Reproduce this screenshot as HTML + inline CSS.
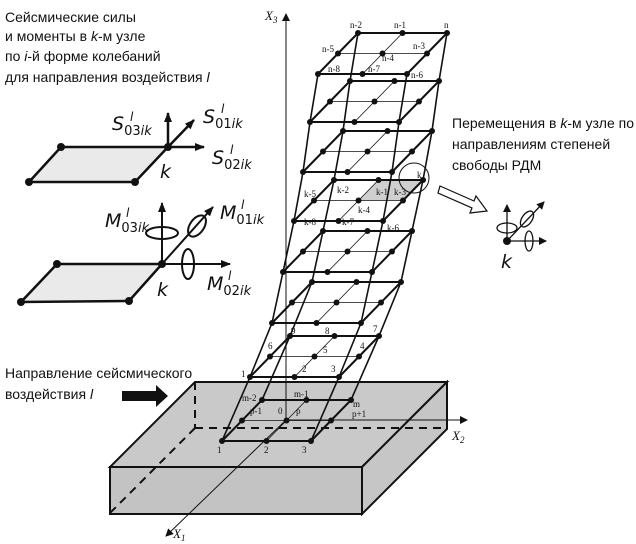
<!DOCTYPE html>
<html><head><meta charset="utf-8">
<style>
html,body{margin:0;padding:0;background:#fff;}
svg{display:block;}
.t{font-family:"Liberation Sans","DejaVu Sans",sans-serif;font-size:14px;fill:#111;}
.s{font-family:"Liberation Serif",serif;font-size:9px;fill:#111;}
.m{font-family:"DejaVu Sans","Liberation Sans",sans-serif;font-style:italic;font-size:19px;fill:#111;}
.sub{font-style:normal;font-size:13px;}
</style></head><body>
<svg id="sv" width="636" height="544" viewBox="0 0 636 544" xmlns="http://www.w3.org/2000/svg">
<defs>
<marker id="ar" markerWidth="8" markerHeight="8" refX="7" refY="4" orient="auto" markerUnits="userSpaceOnUse"><path d="M0,0 L8,4 L0,8 z" fill="#111"/></marker>
<marker id="ar2" markerWidth="10" markerHeight="10" refX="9" refY="5" orient="auto" markerUnits="userSpaceOnUse"><path d="M0,1 L10,5 L0,9 z" fill="#111"/></marker>
</defs>
<!-- foundation -->
<polygon points="195,382 447,382 362,467 110,467" fill="#c9c9c9" stroke="#111" stroke-width="2"/>
<polygon points="110,467 362,467 362,514 110,514" fill="#c3c3c3" stroke="#111" stroke-width="2"/>
<polygon points="362,467 447,382 447,429 362,514" fill="#c6c6c6" stroke="#111" stroke-width="2"/>
<g stroke="#111" stroke-width="2" stroke-dasharray="8,6" fill="none">
<line x1="195" y1="382" x2="195" y2="428"/>
<line x1="195" y1="428" x2="447" y2="428"/>
<line x1="195" y1="428" x2="110" y2="513"/>
</g>
<!-- axes -->
<g stroke="#111" stroke-width="1" fill="none">
<line x1="286" y1="420" x2="286" y2="14" marker-end="url(#ar)"/>
<line x1="286" y1="420" x2="467" y2="420" marker-end="url(#ar)"/>
<line x1="286" y1="420" x2="166" y2="536" marker-end="url(#ar)"/>
</g>
<g id="frame"></g>
<text class="s" x="265" y="20" style="font-size:13px;font-style:italic">X<tspan font-size="9" dy="3">3</tspan></text>
<text class="s" x="452" y="440" style="font-size:13px;font-style:italic">X<tspan font-size="9" dy="3">2</tspan></text>
<text class="s" x="173" y="538" style="font-size:13px;font-style:italic">X<tspan font-size="9" dy="3">1</tspan></text>
<!-- labels top floor -->
<g class="s">
<text x="350" y="28">n-2</text><text x="394" y="28">n-1</text><text x="444" y="28">n</text>
<text x="322" y="52">n-5</text><text x="382" y="61">n-4</text><text x="413" y="49">n-3</text>
<text x="328" y="72">n-8</text><text x="368" y="72">n-7</text><text x="411" y="78">n-6</text>
<text x="337" y="193">k-2</text><text x="376" y="195">k-1</text><text x="394" y="195">k-3</text><text x="417" y="178">k</text>
<text x="304" y="197">k-5</text><text x="358" y="213">k-4</text>
<text x="304" y="225">k-8</text><text x="342" y="225">k-7</text><text x="387" y="231">k-6</text>
<text x="291" y="334">9</text><text x="325" y="334">8</text><text x="373" y="332">7</text>
<text x="268" y="349">6</text><text x="323" y="353">5</text><text x="360" y="349">4</text>
<text x="241" y="377">1</text><text x="302" y="372">2</text><text x="331" y="372">3</text>
<text x="242" y="401">m-2</text><text x="294" y="397">m-1</text><text x="353" y="407">m</text>
<text x="250" y="414">p-1</text><text x="278" y="414">0</text><text x="296" y="414">p</text><text x="352" y="417">p+1</text>
<text x="217" y="453">1</text><text x="264" y="453">2</text><text x="302" y="453">3</text>
</g>
<circle cx="414" cy="178" r="15" fill="none" stroke="#111" stroke-width="1"/>
<!-- hollow arrow -->
<polygon points="440,186 474,201 476,196 487,211 470,213 472,208 438,193" fill="#fff" stroke="#111" stroke-width="1.2"/>
<!-- left panels -->
<polygon points="61,147 168,147 135,182 29,182" fill="#eaeaea" stroke="#111" stroke-width="2.5"/>
<g fill="#111"><circle cx="61" cy="147" r="4"/><circle cx="168" cy="147" r="4"/><circle cx="135" cy="182" r="4"/><circle cx="29" cy="182" r="4"/></g>
<g stroke="#111" stroke-width="2.5" fill="none">
<line x1="168" y1="147" x2="168" y2="113" marker-end="url(#ar2)"/>
<line x1="168" y1="147" x2="204" y2="147" marker-end="url(#ar2)"/>
<line x1="168" y1="147" x2="194" y2="120" marker-end="url(#ar2)"/>
</g>
<polygon points="57,264 162,264 129,301 21,302" fill="#eaeaea" stroke="#111" stroke-width="2.5"/>
<g fill="#111"><circle cx="57" cy="264" r="4"/><circle cx="162" cy="264" r="4"/><circle cx="129" cy="301" r="4"/><circle cx="21" cy="302" r="4"/></g>
<g stroke="#111" stroke-width="2" fill="none">
<line x1="162" y1="264" x2="162" y2="203" marker-end="url(#ar2)"/>
<line x1="162" y1="264" x2="230" y2="264" marker-end="url(#ar2)"/>
<line x1="162" y1="264" x2="213" y2="207" marker-end="url(#ar2)"/>
<ellipse cx="162" cy="233" rx="16" ry="6"/>
<ellipse cx="197" cy="226" rx="7" ry="12" transform="rotate(35 197 226)"/>
<ellipse cx="188" cy="264" rx="6" ry="15"/>
</g>
<text class="m" x="112" y="130">S<tspan class="sub" dy="5">03<tspan font-style="italic">ik</tspan></tspan></text>
<text class="m" x="130" y="121" font-size="12" style="font-size:12px">l</text>
<text class="m" x="203" y="123">S<tspan class="sub" dy="5">01<tspan font-style="italic">ik</tspan></tspan></text>
<text class="m" x="221" y="113" style="font-size:12px">l</text>
<text class="m" x="212" y="164">S<tspan class="sub" dy="5">02<tspan font-style="italic">ik</tspan></tspan></text>
<text class="m" x="230" y="154" style="font-size:12px">l</text>
<text class="m" x="160" y="178">k</text>
<text class="m" x="105" y="227">M<tspan class="sub" dy="5">03<tspan font-style="italic">ik</tspan></tspan></text>
<text class="m" x="126" y="217" style="font-size:12px">l</text>
<text class="m" x="220" y="219">M<tspan class="sub" dy="5">01<tspan font-style="italic">ik</tspan></tspan></text>
<text class="m" x="241" y="209" style="font-size:12px">l</text>
<text class="m" x="207" y="290">M<tspan class="sub" dy="5">02<tspan font-style="italic">ik</tspan></tspan></text>
<text class="m" x="228" y="280" style="font-size:12px">l</text>
<text class="m" x="157" y="296">k</text>
<!-- DOF icon -->
<g stroke="#111" stroke-width="1.3" fill="none">
<line x1="507" y1="241" x2="507" y2="205" marker-end="url(#ar)"/>
<line x1="507" y1="241" x2="546" y2="241" marker-end="url(#ar)"/>
<line x1="507" y1="241" x2="544" y2="202" marker-end="url(#ar)"/>
<ellipse cx="507" cy="228" rx="10" ry="5"/>
<ellipse cx="527" cy="219" rx="5" ry="9" transform="rotate(35 527 219)"/>
<ellipse cx="529" cy="241" rx="4" ry="10"/>
</g>
<circle cx="507" cy="241" r="4" fill="#111"/>
<text class="m" x="501" y="268">k</text>
<!-- texts -->
<text class="t" x="5" y="22">Сейсмические силы</text>
<text class="t" x="5" y="41">и моменты в <tspan font-style="italic">k</tspan>-м узле</text>
<text class="t" x="5" y="61">по <tspan font-style="italic">i</tspan>-й форме колебаний</text>
<text class="t" x="5" y="82">для направления воздействия <tspan font-style="italic">l</tspan></text>
<text class="t" x="452" y="128">Перемещения в <tspan font-style="italic">k</tspan>-м узле по</text>
<text class="t" x="452" y="149">направлениям степеней</text>
<text class="t" x="452" y="170">свободы РДМ</text>
<text class="t" x="5" y="378">Направление сейсмического</text>
<text class="t" x="5" y="399">воздействия <tspan font-style="italic">l</tspan></text>
<polygon points="122,391 156,391 156,385 168,396 156,407 156,401 122,401" fill="#111"/>
</svg>
<script>
(function(){
var NS="http://www.w3.org/2000/svg",g=document.getElementById("frame");
var F=[[222,441],[250,377],[272,323],[283,272],[294,221],[303,172],[310,122],[318,74]];
var W=89,DX=40,DY=-41;
function el(n,a){var e=document.createElementNS(NS,n);for(var k in a)e.setAttribute(k,a[k]);g.appendChild(e);return e;}
function ln(a,b,w){el("line",{x1:a[0],y1:a[1],x2:b[0],y2:b[1],stroke:"#111","stroke-width":w});}
function P(f,u,v){return [f[0]+u*W+v*DX,f[1]+v*DY];}
// gray quad on k floor
var k=F[4];var q=[P(k,.5,1),P(k,1,1),P(k,1,.5),P(k,.5,.5)];
el("polygon",{points:q.map(function(p){return p.join(",")}).join(" "),fill:"#cfcfcf"});
// columns
var cs=[[0,0],[1,0],[0,1],[1,1]];
for(var i=0;i<F.length-1;i++)cs.forEach(function(c){ln(P(F[i],c[0],c[1]),P(F[i+1],c[0],c[1]),1.6);});
F.forEach(function(f){
 ln(P(f,.5,0),P(f,.5,1),0.8);ln(P(f,0,.5),P(f,1,.5),0.8);
 ln(P(f,0,0),P(f,1,0),2);ln(P(f,0,1),P(f,1,1),2);ln(P(f,0,0),P(f,0,1),2);ln(P(f,1,0),P(f,1,1),2);
 for(var u=0;u<=1;u+=.5)for(var v=0;v<=1;v+=.5){var p=P(f,u,v);el("circle",{cx:p[0],cy:p[1],r:3,fill:"#111"});}
});
})();
</script>
</body></html>
